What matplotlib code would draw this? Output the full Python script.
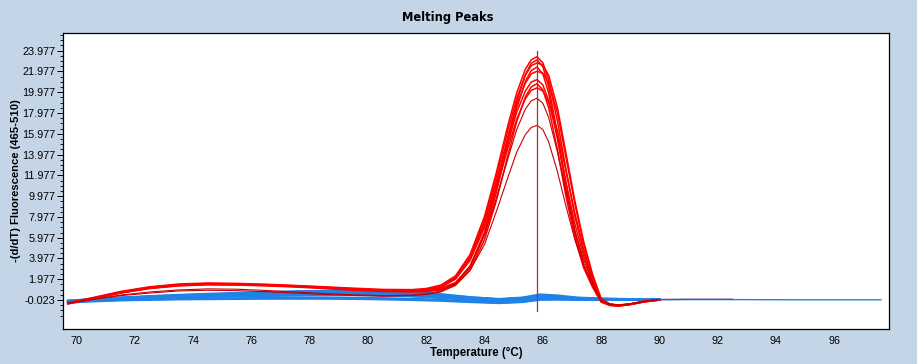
import matplotlib
matplotlib.use("Agg")
import matplotlib.pyplot as plt
from matplotlib.ticker import FixedLocator

# ---------------- data ----------------
# temperature grid of red (positive sample) curves
T_RED = [69.7, 70.5, 71.5, 72.5, 73.5, 74.5, 75.5, 76.5, 77.5, 78.5, 79.5, 80.5, 81.5,
         82.0, 82.5, 83.0, 83.5, 84.0, 84.4, 84.8, 85.1, 85.4, 85.6, 85.8, 86.0, 86.2,
         86.5, 86.8, 87.1, 87.4, 87.7, 88.0, 88.3, 88.6, 89.0, 89.5, 90.0]

RED_1 = [-0.30, 0.18, 0.80, 1.25, 1.52, 1.62, 1.58, 1.50, 1.38, 1.25, 1.12, 1.00, 0.98,
         1.09, 1.42, 2.30, 4.35, 8.05, 12.2, 16.8, 19.9, 22.2, 23.1, 23.4, 22.8, 21.15,
         17.2, 12.45, 8.05, 4.65, 1.90, -0.10, -0.45, -0.55, -0.42, -0.15, 0.00]
RED_2 = [-0.35, 0.12, 0.74, 1.20, 1.46, 1.56, 1.53, 1.45, 1.35, 1.22, 1.06, 0.94, 0.90,
         0.93, 1.11, 1.66, 3.23, 6.52, 10.65, 15.56, 19.01, 21.68, 22.76, 23.1, 22.43, 20.51,
         16.03, 10.95, 6.56, 3.42, 1.39, -0.15, -0.50, -0.58, -0.45, -0.18, -0.02]
RED_3 = [-0.30, 0.14, 0.70, 1.14, 1.40, 1.50, 1.48, 1.41, 1.30, 1.18, 1.04, 0.92, 0.87,
         0.99, 1.31, 2.17, 4.17, 7.76, 11.84, 16.31, 19.38, 21.62, 22.53, 22.8, 22.60, 21.60,
         18.50, 14.00, 9.50, 5.60, 2.50, 0.10, -0.40, -0.50, -0.38, -0.12, 0.02]
RED_4 = [-0.40, 0.07, 0.66, 1.12, 1.37, 1.47, 1.45, 1.38, 1.28, 1.15, 1.01, 0.89, 0.82,
         0.84, 1.02, 1.56, 3.07, 6.27, 10.27, 15.02, 18.44, 21.02, 22.07, 22.4, 21.75, 19.89,
         15.55, 10.62, 6.36, 3.32, 1.34, -0.20, -0.52, -0.60, -0.46, -0.20, -0.03]
RED_5 = [-0.35, 0.10, 0.68, 1.14, 1.40, 1.51, 1.49, 1.40, 1.29, 1.14, 0.98, 0.86, 0.80,
         0.91, 1.22, 2.05, 3.98, 7.44, 11.37, 15.69, 18.71, 20.87, 21.74, 22.0, 21.80, 20.90,
         18.00, 13.60, 9.20, 5.40, 2.40, 0.05, -0.42, -0.52, -0.40, -0.14, 0.00]
RED_6 = [-0.30, 0.12, 0.70, 1.16, 1.43, 1.53, 1.51, 1.42, 1.31, 1.16, 1.00, 0.88, 0.84,
         0.95, 1.24, 2.04, 3.90, 7.23, 11.01, 15.17, 18.04, 20.11, 20.95, 21.2, 20.67, 19.16,
         15.56, 11.28, 7.29, 4.22, 1.80, -0.10, -0.44, -0.54, -0.41, -0.15, 0.00]
RED_7 = [-0.38, 0.08, 0.64, 1.08, 1.34, 1.44, 1.42, 1.34, 1.23, 1.08, 0.92, 0.80, 0.76,
         0.78, 0.95, 1.44, 2.84, 5.80, 9.51, 13.91, 17.14, 19.53, 20.50, 20.8, 20.20, 18.47,
         14.44, 9.86, 5.91, 3.08, 1.25, -0.22, -0.55, -0.60, -0.45, -0.18, -0.02]
RED_8 = [-0.32, 0.14, 0.72, 1.18, 1.45, 1.55, 1.52, 1.43, 1.32, 1.17, 1.01, 0.89, 0.84,
         0.94, 1.23, 1.99, 3.78, 6.98, 10.62, 14.61, 17.37, 19.36, 20.16, 20.4, 20.10, 19.00,
         16.20, 12.30, 8.30, 4.90, 2.10, -0.05, -0.45, -0.55, -0.42, -0.16, 0.00]
RED_9 = [-0.35, 0.00, 0.45, 0.75, 0.95, 1.05, 1.02, 0.90, 0.75, 0.60, 0.48, 0.40, 0.45,
         0.57, 0.84, 1.56, 3.26, 6.30, 9.75, 13.59, 16.38, 18.36, 19.15, 19.4, 18.92, 17.54,
         14.24, 10.32, 6.67, 3.86, 1.70, -0.10, -0.45, -0.55, -0.42, -0.15, 0.00]
RED_10 = [-0.30, 0.05, 0.40, 0.65, 0.85, 0.92, 0.88, 0.78, 0.65, 0.52, 0.42, 0.35, 0.42,
          0.52, 0.76, 1.38, 2.84, 5.34, 8.47, 11.78, 14.20, 15.91, 16.58, 16.8, 16.38, 15.19,
          12.33, 8.94, 5.78, 3.34, 1.50, -0.05, -0.40, -0.50, -0.38, -0.12, 0.02]
RED_BRIGHT = [RED_1, RED_2, RED_3, RED_4, RED_5, RED_6, RED_7, RED_8]
RED_DARK = [RED_9, RED_10]

# one red trace continues flat after 90 °C
RED_EXT_T = [90.0, 91.0, 92.5]
RED_EXT_Y = [0.02, 0.05, 0.05]

# temperature grid of blue (negative sample) curves
T_BLUE = [69.7, 70.5, 71.5, 72.5, 73.5, 74.5, 75.5, 76.5, 77.5, 78.5, 79.5, 80.5, 81.5,
          82.5, 83.5, 84.5, 85.3, 85.9, 86.5, 87.2, 88.0, 89.0, 90.0]
BLUE_1 = [-0.10, 0.05, 0.22, 0.36, 0.48, 0.58, 0.66, 0.74, 0.80, 0.84, 0.82, 0.72, 0.58, 0.40, 0.18, 0.05, 0.18, 0.40, 0.32, 0.16, 0.10, 0.06, 0.04]
BLUE_2 = [-0.15, 0.00, 0.12, 0.22, 0.30, 0.38, 0.45, 0.52, 0.58, 0.62, 0.60, 0.52, 0.42, 0.28, 0.10, -0.02, 0.10, 0.30, 0.25, 0.12, 0.07, 0.05, 0.03]
BLUE_3 = [-0.20, -0.05, 0.08, 0.18, 0.25, 0.32, 0.38, 0.44, 0.50, 0.54, 0.52, 0.45, 0.35, 0.20, 0.02, -0.10, 0.02, 0.22, 0.18, 0.08, 0.05, 0.03, 0.02]
BLUE_4 = [-0.12, 0.02, 0.15, 0.26, 0.35, 0.44, 0.52, 0.60, 0.66, 0.70, 0.68, 0.60, 0.48, 0.32, 0.12, -0.05, 0.06, 0.26, 0.22, 0.10, 0.06, 0.04, 0.02]
BLUE_5 = [-0.25, -0.12, -0.02, 0.04, 0.08, 0.12, 0.15, 0.18, 0.20, 0.22, 0.20, 0.16, 0.10, 0.00, -0.16, -0.28, -0.18, 0.05, 0.06, 0.02, 0.01, 0.01, 0.00]
BLUE_6 = [-0.18, -0.02, 0.10, 0.20, 0.28, 0.35, 0.42, 0.48, 0.55, 0.60, 0.62, 0.58, 0.48, 0.30, 0.08, -0.12, 0.00, 0.18, 0.16, 0.06, 0.04, 0.02, 0.01]
BLUE_7 = [-0.08, 0.06, 0.20, 0.32, 0.42, 0.50, 0.58, 0.66, 0.76, 0.86, 0.92, 0.92, 0.80, 0.55, 0.26, 0.05, 0.15, 0.35, 0.30, 0.15, 0.09, 0.06, 0.04]
BLUE_8 = [-0.22, -0.08, 0.04, 0.14, 0.22, 0.28, 0.32, 0.36, 0.40, 0.44, 0.46, 0.42, 0.34, 0.18, 0.00, -0.15, -0.05, 0.14, 0.12, 0.04, 0.03, 0.02, 0.01]
BLUE_9 = [-0.15, 0.00, 0.12, 0.24, 0.34, 0.42, 0.50, 0.56, 0.60, 0.66, 0.70, 0.68, 0.58, 0.40, 0.18, 0.00, 0.08, 0.28, 0.24, 0.12, 0.07, 0.04, 0.02]
BLUE_10 = [-0.28, -0.16, -0.06, 0.00, 0.04, 0.06, 0.08, 0.10, 0.10, 0.10, 0.08, 0.04, -0.02, -0.10, -0.22, -0.32, -0.22, 0.00, 0.02, 0.00, 0.00, 0.00, 0.00]
BLUE_11 = [-0.10, 0.04, 0.18, 0.30, 0.42, 0.52, 0.62, 0.72, 0.80, 0.85, 0.86, 0.82, 0.70, 0.48, 0.24, 0.08, 0.22, 0.52, 0.42, 0.22, 0.12, 0.07, 0.05]
BLUE_12 = [-0.20, -0.05, 0.08, 0.18, 0.26, 0.32, 0.38, 0.42, 0.46, 0.50, 0.50, 0.44, 0.36, 0.22, 0.05, -0.08, 0.02, 0.20, 0.18, 0.08, 0.05, 0.03, 0.02]
BLUES = [BLUE_1, BLUE_2, BLUE_3, BLUE_4, BLUE_5, BLUE_6, BLUE_7, BLUE_8, BLUE_9, BLUE_10, BLUE_11, BLUE_12]

# one blue trace runs to the end of the range
BLUE_EXT_T = [90.0, 92.5, 95.0, 97.6]
BLUE_EXT_Y = [0.02, 0.02, 0.00, 0.00]

# peak cursor
CURSOR_T = 85.8
CURSOR_Y = [-1.05, 23.95]

X_TICKS = [70, 72, 74, 76, 78, 80, 82, 84, 86, 88, 90, 92, 94, 96]
Y_TICKS = [-0.023, 1.977, 3.977, 5.977, 7.977, 9.977, 11.977, 13.977, 15.977,
           17.977, 19.977, 21.977, 23.977]
Y_TICK_LABELS = ["-0.023", "1.977", "3.977", "5.977", "7.977", "9.977", "11.977",
                 "13.977", "15.977", "17.977", "19.977", "21.977", "23.977"]

TITLE = "Melting Peaks"
XLABEL = "Temperature (°C)"
YLABEL = "-(d/dT) Fluorescence (465-510)"

# ---------------- figure ----------------
W, H = 917, 364
BG = "#c3d5e6"
fig = plt.figure(figsize=(W / 100, H / 100), dpi=100, facecolor=BG)
ax = fig.add_axes([63 / W, 1 - 329 / H, (889 - 63) / W, (329 - 33) / H])
ax.set_facecolor("white")

blue = "#1e82e6"
for ys in BLUES:
    ax.plot(T_BLUE, ys, color=blue, lw=1.5, solid_joinstyle="round")
ax.plot(BLUE_EXT_T, BLUE_EXT_Y, color=blue, lw=1.0)

for ys in RED_BRIGHT:
    ax.plot(T_RED, ys, color="#ff0000", lw=1.1)
for ys in RED_DARK:
    ax.plot(T_RED, ys, color="#c80000", lw=0.8)
ax.plot(RED_EXT_T, RED_EXT_Y, color="#7f3f80", lw=1.0)

ax.plot([CURSOR_T, CURSOR_T], CURSOR_Y, color="#a83030", lw=0.9)

ax.set_xlim(69.53, 97.88)
ax.set_ylim(-2.81, 25.68)

ax.xaxis.set_major_locator(FixedLocator(X_TICKS))
ax.set_xticklabels([str(v) for v in X_TICKS])
ax.yaxis.set_major_locator(FixedLocator(Y_TICKS))
ax.set_yticklabels(Y_TICK_LABELS)
ax.yaxis.set_minor_locator(FixedLocator([v + 0.5 * k for v in [-2.023] + Y_TICKS for k in (1, 2, 3)]))

for lab in ax.get_xticklabels() + ax.get_yticklabels():
    lab.set_fontfamily("Liberation Sans")
    lab.set_fontsize(7.8)
ax.tick_params(axis="x", length=0, pad=5, colors="black")
ax.tick_params(axis="y", which="major", length=4, width=0.7, pad=1.5, direction="out")
ax.tick_params(axis="y", which="minor", length=2, width=0.6, direction="out")

for s in ax.spines.values():
    s.set_linewidth(0.9)
    s.set_color("black")

fig.text(448 / W, 1 - 18 / H, TITLE, ha="center", va="center",
         fontfamily="DejaVu Sans", fontweight="bold", fontsize=8.3)
fig.text(476 / W, 1 - 353 / H, XLABEL, ha="center", va="center",
         fontfamily="Liberation Sans", fontweight="bold", fontsize=8.3)
fig.text(16 / W, 1 - 181 / H, YLABEL, ha="center", va="center", rotation=90,
         fontfamily="Liberation Sans", fontweight="bold", fontsize=8.1)

fig.savefig("out.png", dpi=100, facecolor=BG)
